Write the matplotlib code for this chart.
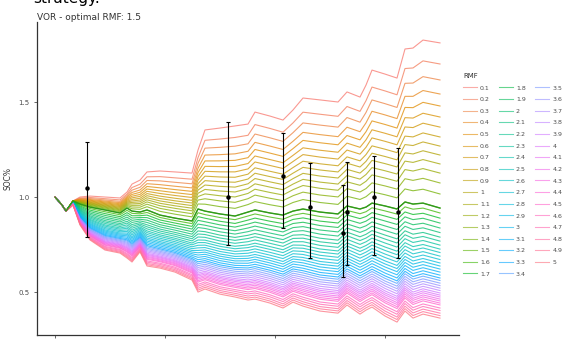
#!/usr/bin/env python
import numpy as np
import matplotlib
matplotlib.use("Agg")
import matplotlib.pyplot as plt
from matplotlib.lines import Line2D

# RMF levels shown in the legend
rmf = [round(0.1 * i, 1) for i in range(1, 51)]
optimal_rmf = 1.5

# time axis (days from start)
t = [0, 7, 11, 18, 25, 35, 50, 65, 72, 77, 85, 92, 105, 120, 137, 143, 150,
     165, 180, 193, 200, 215, 228, 238, 248, 265, 283, 292, 305, 311, 317,
     330, 342, 350, 358, 368, 385]

# SOC% of the extreme RMF runs and of the optimal one
soc_low_rmf = [1.000, 0.958, 0.926, 0.979, 1.000, 1.005, 1.000, 0.995, 1.026,
               1.068, 1.089, 1.132, 1.137, 1.132, 1.126, 1.247, 1.353, 1.363,
               1.374, 1.384, 1.447, 1.426, 1.405, 1.458, 1.521, 1.511, 1.500,
               1.553, 1.526, 1.589, 1.668, 1.647, 1.626, 1.779, 1.784, 1.826,
               1.811]
soc_optimal = [1.000, 0.958, 0.926, 0.979, 0.963, 0.947, 0.932, 0.916, 0.942,
               0.926, 0.921, 0.932, 0.905, 0.889, 0.874, 0.937, 0.926, 0.911,
               0.900, 0.921, 0.932, 0.916, 0.905, 0.926, 0.937, 0.921, 0.911,
               0.953, 0.937, 0.947, 0.968, 0.953, 0.937, 0.974, 0.963, 0.968,
               0.942]
soc_high_rmf = [1.000, 0.958, 0.926, 0.958, 0.853, 0.774, 0.721, 0.705, 0.679,
                0.658, 0.711, 0.637, 0.626, 0.605, 0.563, 0.500, 0.516, 0.489,
                0.474, 0.458, 0.463, 0.442, 0.416, 0.447, 0.426, 0.400, 0.389,
                0.432, 0.384, 0.405, 0.421, 0.374, 0.342, 0.400, 0.363, 0.384,
                0.363]

# final SOC% reached by each RMF run
soc_end = [1.811, 1.700, 1.616, 1.542, 1.479, 1.421, 1.368, 1.316, 1.268,
           1.221, 1.174, 1.126, 1.074, 1.016, 0.942,
           0.916, 0.889, 0.863, 0.837, 0.813, 0.789, 0.768, 0.747, 0.726,
           0.708, 0.689, 0.671, 0.653, 0.637, 0.621, 0.605, 0.589, 0.574,
           0.561, 0.547, 0.534, 0.521, 0.508, 0.495, 0.484, 0.474, 0.463,
           0.453, 0.442, 0.432, 0.416, 0.403, 0.389, 0.376, 0.363]

# observed SOC% (mean and range)
obs_t = [32, 173, 228, 255, 288, 292, 319, 343]
obs_mean = [1.047, 1.000, 1.111, 0.947, 0.811, 0.921, 1.000, 0.921]
obs_low = [0.789, 0.747, 0.837, 0.679, 0.579, 0.642, 0.695, 0.679]
obs_high = [1.289, 1.395, 1.337, 1.179, 1.063, 1.184, 1.216, 1.258]


def hue_pal(n, l=65, c=100):
    # ggplot2 default discrete palette (HCL hues)
    hues = np.linspace(15, 375, n + 1)[:-1]
    xn, yn, zn = 0.95047, 1.0, 1.08883
    un = 4 * xn / (xn + 15 * yn + 3 * zn)
    vn = 9 * yn / (xn + 15 * yn + 3 * zn)
    m = np.array([[3.2406, -1.5372, -0.4986],
                  [-0.9689, 1.8758, 0.0415],
                  [0.0557, -0.2040, 1.0570]])
    out = []
    for h in hues:
        u = c * np.cos(np.radians(h))
        v = c * np.sin(np.radians(h))
        y = ((l + 16) / 116) ** 3
        up = u / (13 * l) + un
        vp = v / (13 * l) + vn
        x = y * 9 * up / (4 * vp)
        z = y * (12 - 3 * up - 20 * vp) / (4 * vp)
        rgb = m @ np.array([x, y, z])
        rgb = np.where(rgb <= 0.0031308, 12.92 * rgb,
                       1.055 * np.abs(rgb) ** (1 / 2.4) - 0.055)
        out.append(tuple(np.clip(rgb, 0, 1)))
    return out


def main():
    tt = np.array(t)
    lo = np.array(soc_low_rmf)
    op = np.array(soc_optimal)
    hi = np.array(soc_high_rmf)
    iopt = rmf.index(optimal_rmf)
    colors = hue_pal(len(rmf))

    fig = plt.figure(figsize=(5.76, 3.4), dpi=100)
    ax = fig.add_axes([37 / 576, 5 / 340, 422 / 576, 313 / 340])

    for i, r in enumerate(rmf):
        if soc_end[i] >= soc_end[iopt]:
            frac = (soc_end[i] - op[-1]) / (lo[-1] - op[-1])
            y = op + frac * (lo - op)
        else:
            frac = (soc_end[i] - op[-1]) / (hi[-1] - op[-1])
            y = op + frac * (hi - op)
        ax.plot(tt, y, color=colors[i], lw=0.8, alpha=0.75)
    ax.plot(tt, op, color="#2f9a1c", lw=1.0, zorder=5)

    yerr = [np.array(obs_mean) - np.array(obs_low),
            np.array(obs_high) - np.array(obs_mean)]
    ax.errorbar(obs_t, obs_mean, yerr=yerr, fmt="o", color="black",
                ms=2.2, lw=0.8, capsize=1.5, capthick=0.8, zorder=6)

    ax.set_xlim(-18, 404)
    ax.set_ylim(0.274, 1.921)
    ax.set_xticks([0, 110, 220, 330])
    ax.set_xticklabels([])
    ax.set_yticks([0.5, 1.0, 1.5])
    ax.set_yticklabels(["0.5", "1.0", "1.5"])
    ax.tick_params(labelsize=5, colors="#4d4d4d", length=2, width=0.6)
    for s in ["top", "right"]:
        ax.spines[s].set_visible(False)
    for s in ["left", "bottom"]:
        ax.spines[s].set_color("#333333")
        ax.spines[s].set_linewidth(0.9)
    ax.set_ylabel("SOC%", fontsize=5.5, color="#333333", labelpad=4)

    fig.text(37 / 576, 1 - 18 / 340, "VOR - optimal RMF: 1.5", fontsize=6.5,
             color="#333333", va="center", ha="left")
    fig.text(33 / 576, 1 - 3 / 340, "strategy.", fontsize=11,
             color="black", va="baseline", ha="left")

    handles = [Line2D([], [], color=colors[i], lw=0.8, alpha=0.6)
               for i in range(len(rmf))]
    labels = ["{:g}".format(r) for r in rmf]
    leg = fig.legend(handles, labels, ncol=3, title="RMF", fontsize=4.5,
                     title_fontsize=5, loc="upper left",
                     bbox_to_anchor=(458 / 576, 1 - 68 / 340), frameon=False,
                     handlelength=2.2, handletextpad=0.5, columnspacing=1.5,
                     labelspacing=1.0, alignment="left", borderpad=0.3)
    for txt in leg.get_texts():
        txt.set_color("#4d4d4d")
    leg.get_title().set_color("#333333")

    fig.savefig("out.png", dpi=100)


if __name__ == "__main__":
    main()
